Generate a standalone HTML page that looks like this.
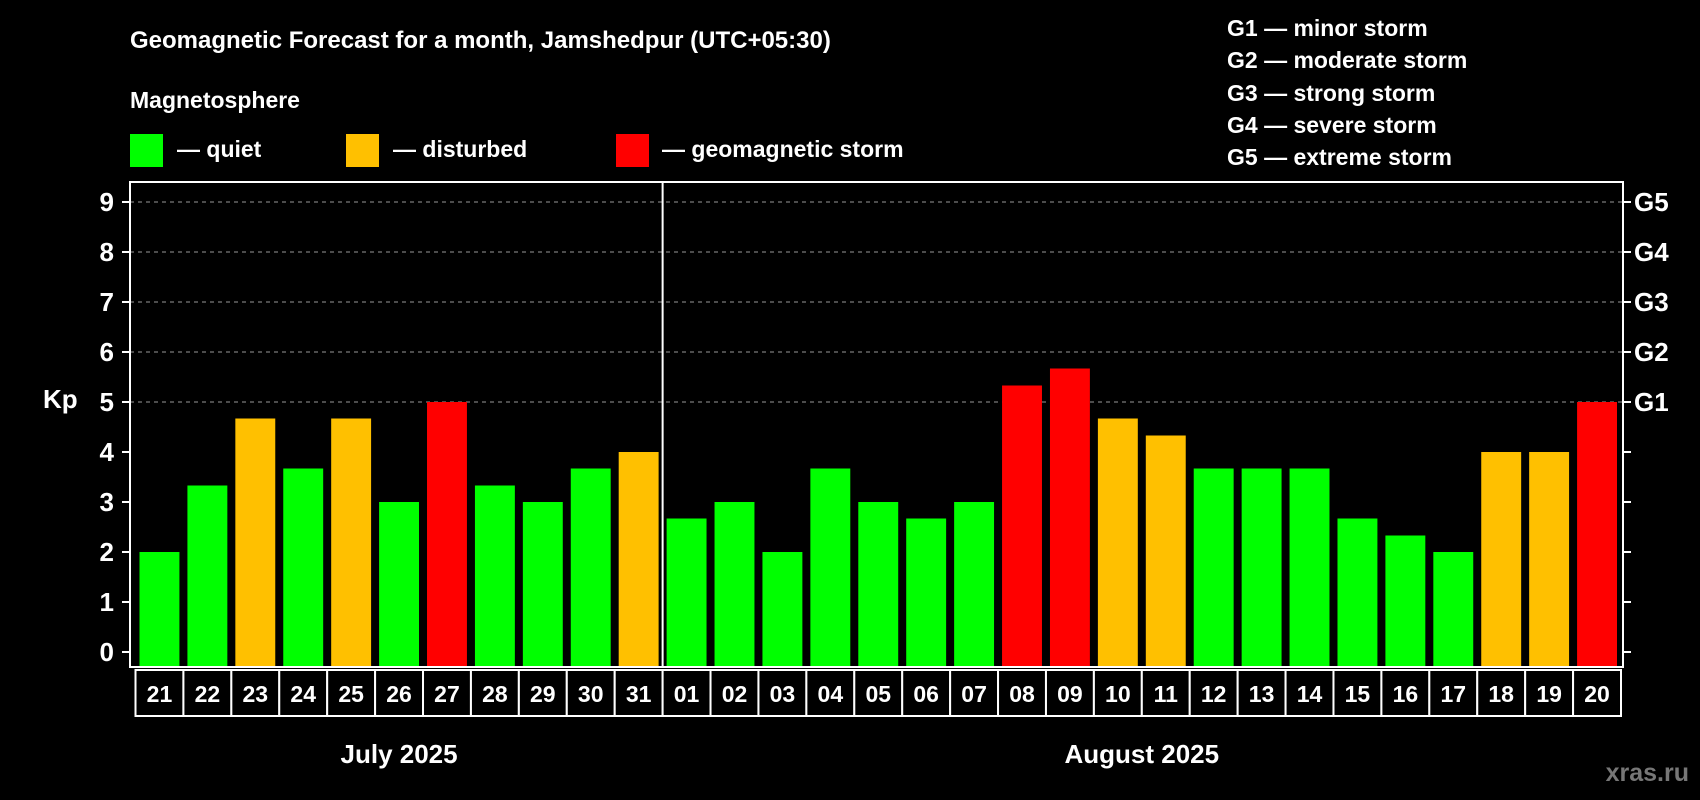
<!DOCTYPE html>
<html><head><meta charset="utf-8"><style>
html,body{margin:0;padding:0;background:#000;}
svg{display:block;font-family:"Liberation Sans",Arial,sans-serif;font-weight:bold;}
</style></head><body>
<svg id="c" width="1700" height="800" viewBox="0 0 1700 800">
<text x="130" y="48" fill="#fff" font-size="24">Geomagnetic Forecast for a month, Jamshedpur (UTC+05:30)</text>
<text x="130" y="108" fill="#fff" font-size="23">Magnetosphere</text>
<g><rect x="130" y="134" width="33" height="33" fill="#00ff00"/><text x="177" y="157" fill="#fff" font-size="23">— quiet</text></g>
<g><rect x="346" y="134" width="33" height="33" fill="#ffc000"/><text x="393" y="157" fill="#fff" font-size="23">— disturbed</text></g>
<g><rect x="616" y="134" width="33" height="33" fill="#ff0000"/><text x="662" y="157" fill="#fff" font-size="23">— geomagnetic storm</text></g>
<g fill="#fff" font-size="23">
<text x="1227" y="36">G1 — minor storm</text>
<text x="1227" y="68">G2 — moderate storm</text>
<text x="1227" y="101">G3 — strong storm</text>
<text x="1227" y="133">G4 — severe storm</text>
<text x="1227" y="165">G5 — extreme storm</text>
</g>
<text x="43" y="408" fill="#fff" font-size="26">Kp</text>
<text x="1689" y="781" fill="#777" font-size="25" text-anchor="end">xras.ru</text>
<g id="plot"></g>
</svg>
<script>
const days = ["21","22","23","24","25","26","27","28","29","30","31","01","02","03","04","05","06","07","08","09","10","11","12","13","14","15","16","17","18","19","20"];
const kp = [2,3.33,4.67,3.67,4.67,3,5,3.33,3,3.67,4,2.67,3,2,3.67,3,2.67,3,5.33,5.67,4.67,4.33,3.67,3.67,3.67,2.67,2.33,2,4,4,5];
const yTicks = [0,1,2,3,4,5,6,7,8,9];
const gLabels = ["G1","G2","G3","G4","G5"];
const gLevels = [5,6,7,8,9];
const months = ["July 2025","August 2025"];
const monthStart = [0,11];

const NS="http://www.w3.org/2000/svg";
const g=document.getElementById('plot');
const L=130,R=1623,T=182,B=667,X0=135.5,X1=1621;
const slot=(X1-X0)/days.length;
const y=v=>652-v*50;
const x=i=>X0+i*slot;
function mk(t,a,txt){const e=document.createElementNS(NS,t);for(const k in a)e.setAttribute(k,a[k]);if(txt!==undefined)e.textContent=txt;g.appendChild(e);return e;}
gLevels.forEach(v=>{
 const e=mk('line',{x1:L,x2:R,y1:y(v),y2:y(v),stroke:'#999','stroke-dasharray':'4,4','stroke-width':1});
 
 
});
kp.forEach((v,i)=>{
 const c=v<4?'#00ff00':(v<5?'#ffc000':'#ff0000');
 const r=mk('rect',{x:x(i)+4,y:y(v),width:slot-8,height:B-y(v),fill:c});
 
 
});
const fr=mk('rect',{x:L,y:T,width:R-L,height:B-T,fill:'none',stroke:'#fff','stroke-width':2});


const dv=mk('line',{x1:x(11),x2:x(11),y1:T,y2:B,stroke:'#fff','stroke-width':2});


yTicks.forEach(v=>{
 mk('line',{x1:L-8,x2:L,y1:y(v),y2:y(v),stroke:'#fff','stroke-width':2});
 mk('line',{x1:R,x2:R+8,y1:y(v),y2:y(v),stroke:'#fff','stroke-width':2});
 const t=mk('text',{x:114,y:y(v)+9,fill:'#fff','font-size':26,'text-anchor':'end'},String(v));
 
 
});
gLabels.forEach((s,i)=>{
 const t=mk('text',{x:1634,y:y(gLevels[i])+9,fill:'#fff','font-size':26},s);
 
 
});
days.forEach((d,i)=>{
 const r=mk('rect',{x:x(i),y:670,width:slot,height:46,fill:'#000',stroke:'#fff','stroke-width':2});
 
 
 const t=mk('text',{x:x(i)+slot/2,y:702,fill:'#fff','font-size':23,'text-anchor':'middle'},d);
 
 
});
months.forEach((m,i)=>{
 const s=monthStart[i],e=i+1<monthStart.length?monthStart[i+1]:days.length;
 const t=mk('text',{x:(x(s)+x(e))/2,y:763,fill:'#fff','font-size':26,'text-anchor':'middle'},m);
 
 
});
</script>
</body></html>
